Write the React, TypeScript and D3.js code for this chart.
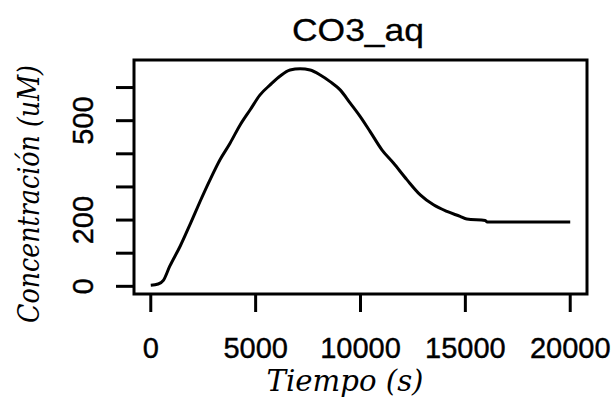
import React from "react";
import * as d3 from "d3";

const times = [0, 350, 600, 900, 1400, 1900, 2350, 2830, 3300, 3780, 4260, 4740, 5210, 5690, 6170, 6640, 7120, 7600, 8080, 8550, 9030, 9510, 9980, 10460, 11020, 11570, 12210, 12850, 13480, 14120, 14750, 15070, 15950, 16030, 20000];
const conc = [3, 7, 18, 60, 121, 191, 256, 322, 382, 432, 487, 533, 578, 608, 635, 653, 657, 653, 638, 618, 593, 553, 513, 467, 412, 372, 322, 276, 246, 226, 211, 203, 199, 194, 194];
const xTicks = [0, 5000, 10000, 15000, 20000];
const yTicks = [0, 100, 200, 300, 400, 500, 600];
const yTickLabels = [0, 200, 500];
const title = "CO3_aq";
const xTitle = "Tiempo (s)";
const yTitle = "Concentración (uM)";

const W = 612, H = 399;
const box = { left: 134, right: 587, top: 60, bottom: 294 };

function padExtent(vals: number[]): [number, number] {
  const [lo, hi] = d3.extent(vals) as [number, number];
  const r = hi - lo;
  return [lo - 0.04 * r, hi + 0.04 * r];
}

export default function App() {
  const x = d3.scaleLinear().domain(padExtent(times)).range([box.left, box.right]);
  const y = d3.scaleLinear().domain(padExtent(conc)).range([box.bottom, box.top]);
  const pts = times.map((t, i) => [t, conc[i]] as [number, number]);
  const line = d3.line<[number, number]>().x(d => x(d[0])).y(d => y(d[1])).curve(d3.curveMonotoneX);
  const tickLen = 18;
  const sans = "'Liberation Sans', Arial, sans-serif";
  const serif = "'DejaVu Serif', serif";
  return (
    <svg width={W} height={H} style={{ position: "absolute", left: 0, top: 0, background: "#fff" }}>
      <rect x={0} y={0} width={W} height={H} fill="#fff" />
      <text x={358} y={40.5} fontFamily={sans} fontSize={32} textAnchor="middle" textLength={132} lengthAdjust="spacingAndGlyphs" fill="#000" stroke="#000" strokeWidth={0.3}>{title}</text>
      <path d={line(pts) || ""} fill="none" stroke="#000" strokeWidth={3} strokeLinejoin="round" />
      <rect x={box.left} y={box.top} width={box.right - box.left} height={box.bottom - box.top} fill="none" stroke="#000" strokeWidth={3} />
      {xTicks.map(t => (
        <g key={"x" + t}>
          <line x1={x(t)} x2={x(t)} y1={box.bottom} y2={box.bottom + tickLen} stroke="#000" strokeWidth={3} />
          <text x={x(t)} y={358} fontFamily={sans} fontSize={29} textAnchor="middle" fill="#000" stroke="#000" strokeWidth={0.4}>{t}</text>
        </g>
      ))}
      {yTicks.map(v => (
        <line key={"y" + v} x1={box.left - tickLen} x2={box.left} y1={y(v)} y2={y(v)} stroke="#000" strokeWidth={3} />
      ))}
      {yTickLabels.map(v => (
        <text key={"yl" + v} transform={`translate(93,${y(v)}) rotate(-90)`} fontFamily={sans} fontSize={29} textAnchor="middle" fill="#000" stroke="#000" strokeWidth={0.4}>{v}</text>
      ))}
      <text x={345} y={391} fontFamily={serif} fontStyle="italic" fontSize={30} textAnchor="middle" textLength={157} lengthAdjust="spacingAndGlyphs" fill="#000">{xTitle}</text>
      <text transform="translate(39,194) rotate(-90)" fontFamily={serif} fontStyle="italic" fontSize={30} textAnchor="middle" textLength={258} lengthAdjust="spacingAndGlyphs" fill="#000">{yTitle}</text>
    </svg>
  );
}
